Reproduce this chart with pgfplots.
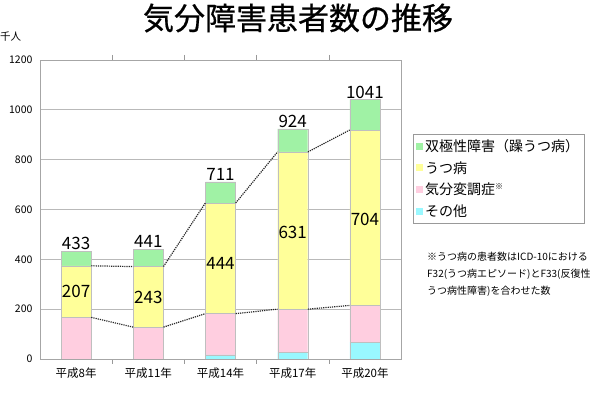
\documentclass[border=0pt]{standalone}
\usepackage{pgfplots}
\pgfplotsset{compat=1.18}
\usepackage{fontspec}
\setmainfont{Noto Sans CJK JP}
\newfontfamily\titlefont[FakeBold=0.6]{Noto Sans CJK JP}
\definecolor{cgreen}{RGB}{160,242,165}
\definecolor{cyellow}{RGB}{255,255,153}
\definecolor{cpink}{RGB}{255,206,224}
\definecolor{ccyan}{RGB}{153,248,255}
\begin{document}
\begin{tikzpicture}
\path[use as bounding box] (0pt,0pt) rectangle (600pt,393pt);
\node[font=\titlefont\fontsize{31}{32}\selectfont] at (298pt,375pt) {気分障害患者数の推移};
\node[font=\fontsize{10.5}{11}\selectfont, anchor=west, inner sep=0pt] at (0pt,356pt) {千人};
\begin{axis}[
  at={(40pt,34pt)}, anchor=south west,
  width=361pt, height=299pt, scale only axis,
  xmin=-0.5, xmax=4.5, ymin=0, ymax=1200,
  ybar stacked, bar width=30pt,
  legend image code/.code={\fill[#1,draw=none] (0pt,-3.5pt) rectangle (7pt,3.5pt);},
  ytick={0,200,...,1200},
  xtick={0,1,2,3,4},
  xticklabels={平成8年,平成11年,平成14年,平成17年,平成20年},
  minor xtick={0.5,1.5,2.5,3.5},
  major tick length=0pt,
  minor tick length=5pt,
  xtick style={draw=none},
  minor x tick style={draw=gray!80, line width=0.6pt},
  tick align=outside,
  ymajorgrids, grid style={gray!55, line width=0.8pt},
  axis line style={gray!70, line width=0.8pt},
  /pgf/number format/assume math mode=true,
  /pgf/number format/1000 sep={},
  tick label style={font=\fontsize{10.5}{12}\selectfont},
  xticklabel style={font=\fontsize{11.5}{13}\selectfont, yshift=-5pt},
  yticklabel style={xshift=-4pt},
  reverse legend,
  legend cell align=left,
  legend style={at={(1.033,0.752)}, anchor=north west, draw=gray!80,
    font=\fontsize{14}{16}\selectfont, row sep=4.5pt, inner xsep=3pt, inner ysep=3pt,
    /tikz/every even column/.append style={column sep=2pt}},
]
\addplot[fill=ccyan, draw=gray!50] coordinates {(0,0) (1,0) (2,17) (3,27) (4,68)};
\addlegendentry{その他}
\addplot[fill=cpink, draw=gray!50] coordinates {(0,167) (1,128) (2,165) (3,173) (4,147)};
\addlegendentry{気分変調症\textsuperscript{\fontsize{8}{8}\selectfont ※}}
\addplot[fill=cyellow, draw=gray!50] coordinates {(0,207) (1,243) (2,444) (3,631) (4,704)};
\addlegendentry{うつ病}
\addplot[fill=cgreen, draw=gray!50] coordinates {(0,59) (1,70) (2,85) (3,93) (4,122)};
\addlegendentry{双極性障害（躁うつ病）}
\end{axis}
\begin{axis}[
  at={(40pt,34pt)}, anchor=south west,
  width=361pt, height=299pt, scale only axis,
  xmin=-0.5, xmax=4.5, ymin=0, ymax=1200,
  hide axis, clip=false,
]
\addplot[densely dotted, line width=1.2pt, black!85] coordinates {(0.21,374) (0.79,371)};
\addplot[densely dotted, line width=1.2pt, black!85] coordinates {(1.21,371) (1.79,626)};
\addplot[densely dotted, line width=1.2pt, black!85] coordinates {(2.21,626) (2.79,831)};
\addplot[densely dotted, line width=1.2pt, black!85] coordinates {(3.21,831) (3.79,919)};
\addplot[densely dotted, line width=1.2pt, black!85] coordinates {(0.21,167) (0.79,128)};
\addplot[densely dotted, line width=1.2pt, black!85] coordinates {(1.21,128) (1.79,182)};
\addplot[densely dotted, line width=1.2pt, black!85] coordinates {(2.21,182) (2.79,200)};
\addplot[densely dotted, line width=1.2pt, black!85] coordinates {(3.21,200) (3.79,215)};
\addplot[draw=none, mark=none, nodes near coords, point meta=explicit symbolic,
  nodes near coords style={font=\fontsize{17}{18}\selectfont, anchor=south, inner sep=1pt}]
  coordinates {(0,433)[433] (1,441)[441] (2,711)[711] (3,924)[924] (4,1041)[1041]};
\addplot[draw=none, mark=none, nodes near coords, point meta=explicit symbolic,
  nodes near coords style={font=\fontsize{17}{18}\selectfont, anchor=center}]
  coordinates {(0,270)[207] (1,249)[243] (2,382)[444] (3,509)[631] (4,561)[704]};
\end{axis}
\node[font=\fontsize{10}{17}\selectfont, anchor=north west, align=left, inner sep=0pt] at (427pt,141pt)
  {※うつ病の患者数はICD-10における\\F32(うつ病エピソード)とF33(反復性\\うつ病性障害)を合わせた数};
\end{tikzpicture}
\end{document}
